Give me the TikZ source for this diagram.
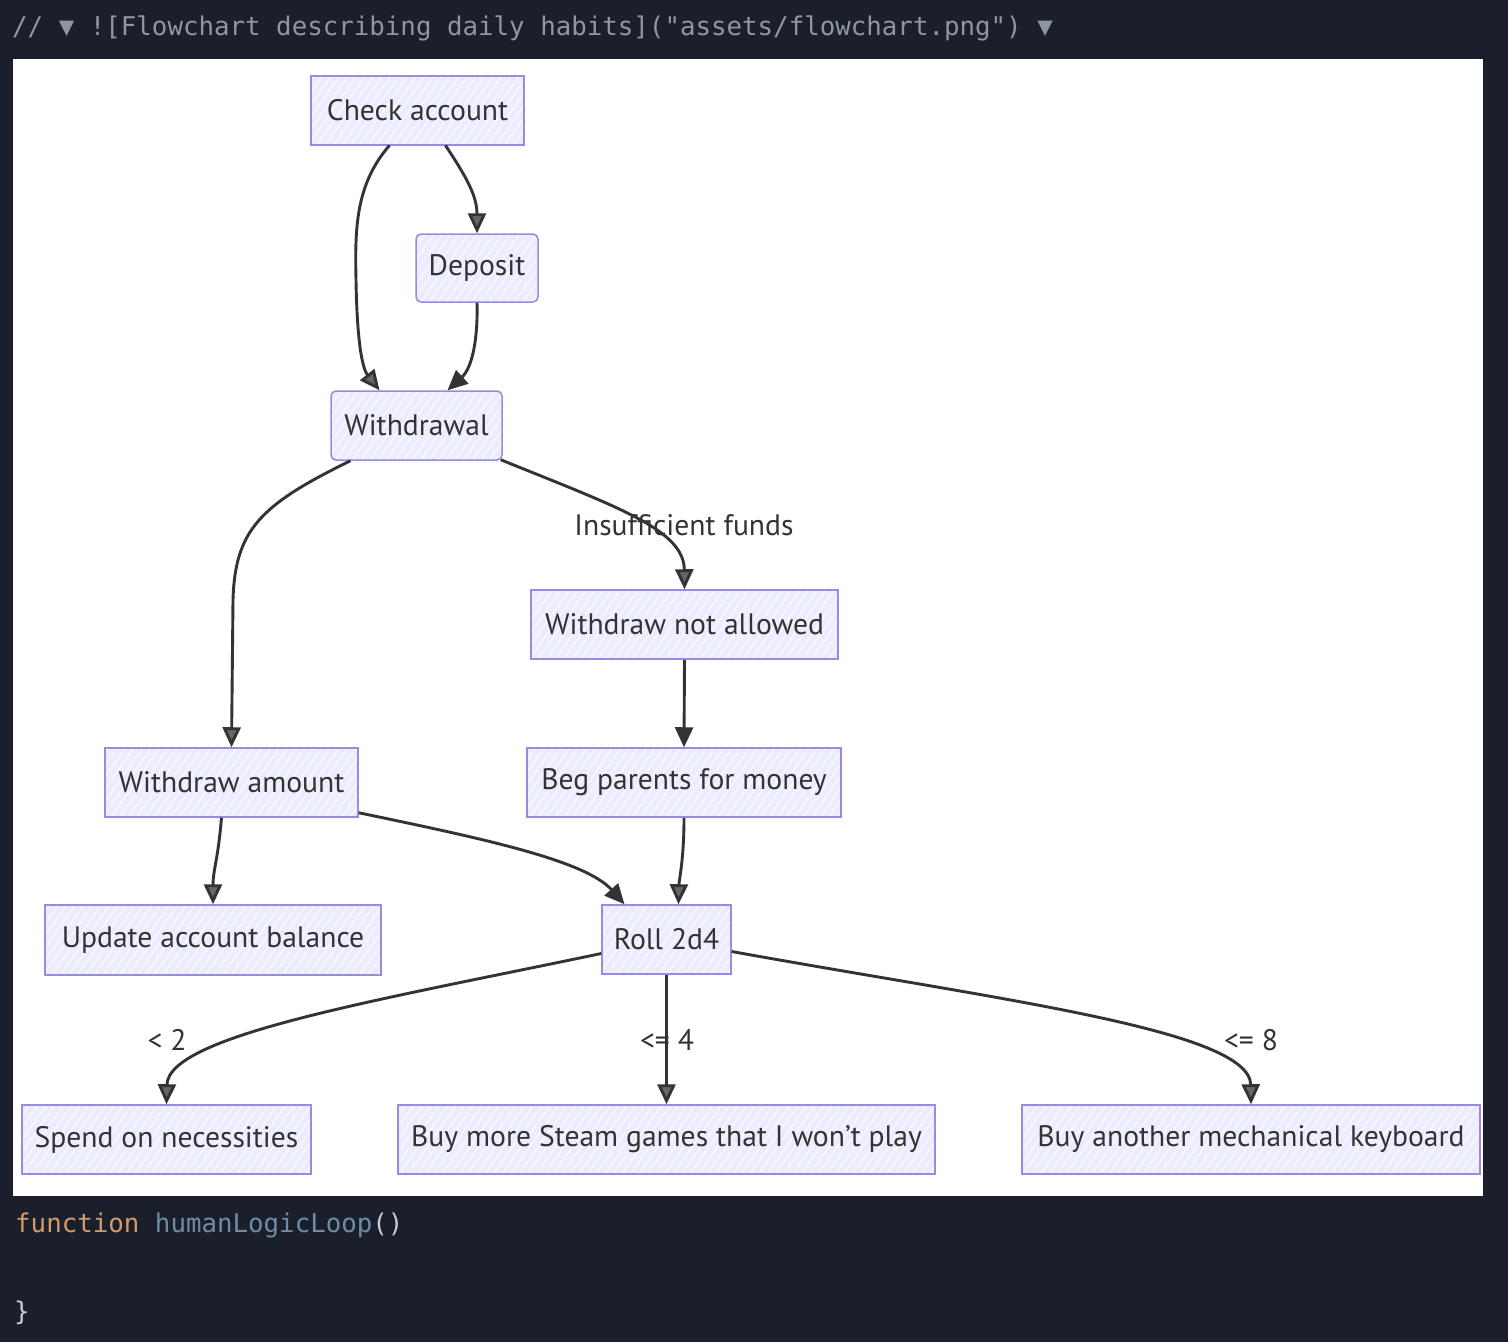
\documentclass[tikz,border=0pt]{standalone}
\usepackage{fontspec}
\setmainfont{PT Sans}
\newfontfamily\codefont{DejaVu Sans Mono}
\usetikzlibrary{arrows.meta,patterns.meta}
\definecolor{bgdark}{HTML}{1B1F2B}
\definecolor{nodefill}{HTML}{ECECFF}
\definecolor{nodeline}{HTML}{9A8AE0}
\definecolor{inkc}{HTML}{333333}
\definecolor{codegray}{HTML}{8E96A3}
\definecolor{kwcolor}{HTML}{D49A68}
\definecolor{fncolor}{HTML}{6E8CA8}
\definecolor{parcolor}{HTML}{C8CCD4}
\begin{document}
\begin{tikzpicture}[x=1pt,y=-1pt,
  box/.style={draw=nodeline, line width=1.5pt, inner sep=0pt,
    preaction={fill=nodefill},
    pattern={Lines[angle=55,distance=7pt,line width=0.8pt]}, pattern color=white,
    font=\fontsize{29.6}{32}\selectfont, text=inkc},
  edge/.style={draw=inkc, line width=2.9pt},
  hatchtip/.style={-{Triangle[length=20pt,width=18pt,fill=inkc!75]}},
  solidtip/.style={-{Triangle[length=20pt,width=18pt]}},
  elabel/.style={font=\fontsize{29.6}{32}\selectfont, text=inkc, inner sep=0pt},
  codetxt/.style={font=\codefont\fontsize{25.8}{28}\selectfont, inner sep=0pt, anchor=west}
]
\fill[bgdark] (0,0) rectangle (1508,1342);
\fill[white] (13,59) rectangle (1483,1196);

\node[codetxt, text=codegray] (hdr) at (12,28) {// ▼ ![Flowchart describing daily habits]("assets/flowchart.png") ▼};
\node[codetxt] (fn) at (15,1225) {\textcolor{kwcolor}{function} \textcolor{fncolor}{humanLogicLoop}\textcolor{parcolor}{()}};
\node[codetxt, text=parcolor] (brace) at (14,1313) {\}};

\node[box, minimum width=213pt, minimum height=69pt] (check) at (417.5,110.5) {Check account};
\node[box, minimum width=122pt, minimum height=68pt, rounded corners=5pt] (deposit) at (477,268) {Deposit};
\node[box, minimum width=171pt, minimum height=69pt, rounded corners=5pt] (withdrawal) at (416.5,425.5) {Withdrawal};
\node[box, minimum width=307pt, minimum height=69pt] (notallowed) at (684.5,624.5) {Withdraw not allowed};
\node[box, minimum width=253pt, minimum height=69pt] (wamount) at (231.5,782.5) {Withdraw amount};
\node[box, minimum width=314pt, minimum height=69pt] (beg) at (684,782.5) {Beg parents for money};
\node[box, minimum width=336pt, minimum height=70pt] (update) at (213,940) {Update account balance};
\node[box, minimum width=129pt, minimum height=69pt] (roll) at (666.5,939.5) {Roll 2d4};
\node[box, minimum width=289pt, minimum height=69pt] (spend) at (166.5,1139.5) {Spend on necessities};
\node[box, minimum width=537pt, minimum height=69pt] (steam) at (666.5,1139.5) {Buy more Steam games that I won't play};
\node[box, minimum width=458pt, minimum height=69pt] (kbd) at (1251,1139.5) {Buy another mechanical keyboard};

\draw[edge,hatchtip] ([xshift=-28pt]check.south) .. controls (355,185) and (355,230) .. (356,280) .. controls (357,340) and (362,368) .. ([xshift=-37pt]withdrawal.north);
\draw[edge,hatchtip] ([xshift=28pt]check.south) .. controls (465,175) and (477,195) .. (deposit.north);
\draw[edge,solidtip] (deposit.south) .. controls (478,340) and (472,368) .. ([xshift=31pt]withdrawal.north);
\draw[edge,hatchtip] ([xshift=-66pt]withdrawal.south) .. controls (260,505) and (235,530) .. (233,600) -- (wamount.north);
\draw[edge,hatchtip] ([xshift=-2pt,yshift=1pt]withdrawal.south east) .. controls (620,508) and (684,530) .. (notallowed.north);
\node[elabel] (lins) at (684,525) {Insufficient funds};
\draw[edge,solidtip] (notallowed.south) -- (beg.north);
\draw[edge,hatchtip] ([xshift=-10pt]wamount.south) .. controls (218,860) and (213,870) .. (update.north);
\draw[edge,solidtip] ([yshift=5pt]wamount.south east) .. controls (480,838) and (585,860) .. ([xshift=-42pt]roll.north);
\draw[edge,hatchtip] (beg.south) .. controls (684,860) and (679,880) .. ([xshift=12pt]roll.north);
\draw[edge,hatchtip] ([yshift=-14pt]roll.west) .. controls (380,1000) and (168,1035) .. (spend.north);
\node[elabel] (l2) at (167,1040) {< 2};
\draw[edge,hatchtip] (roll.south) -- (steam.north);
\node[elabel] (l4) at (667,1040) {<= 4};
\draw[edge,hatchtip] ([yshift=-12pt]roll.east) .. controls (1000,1000) and (1250,1030) .. (kbd.north);
\node[elabel] (l8) at (1251,1040) {<= 8};
\end{tikzpicture}
\end{document}
